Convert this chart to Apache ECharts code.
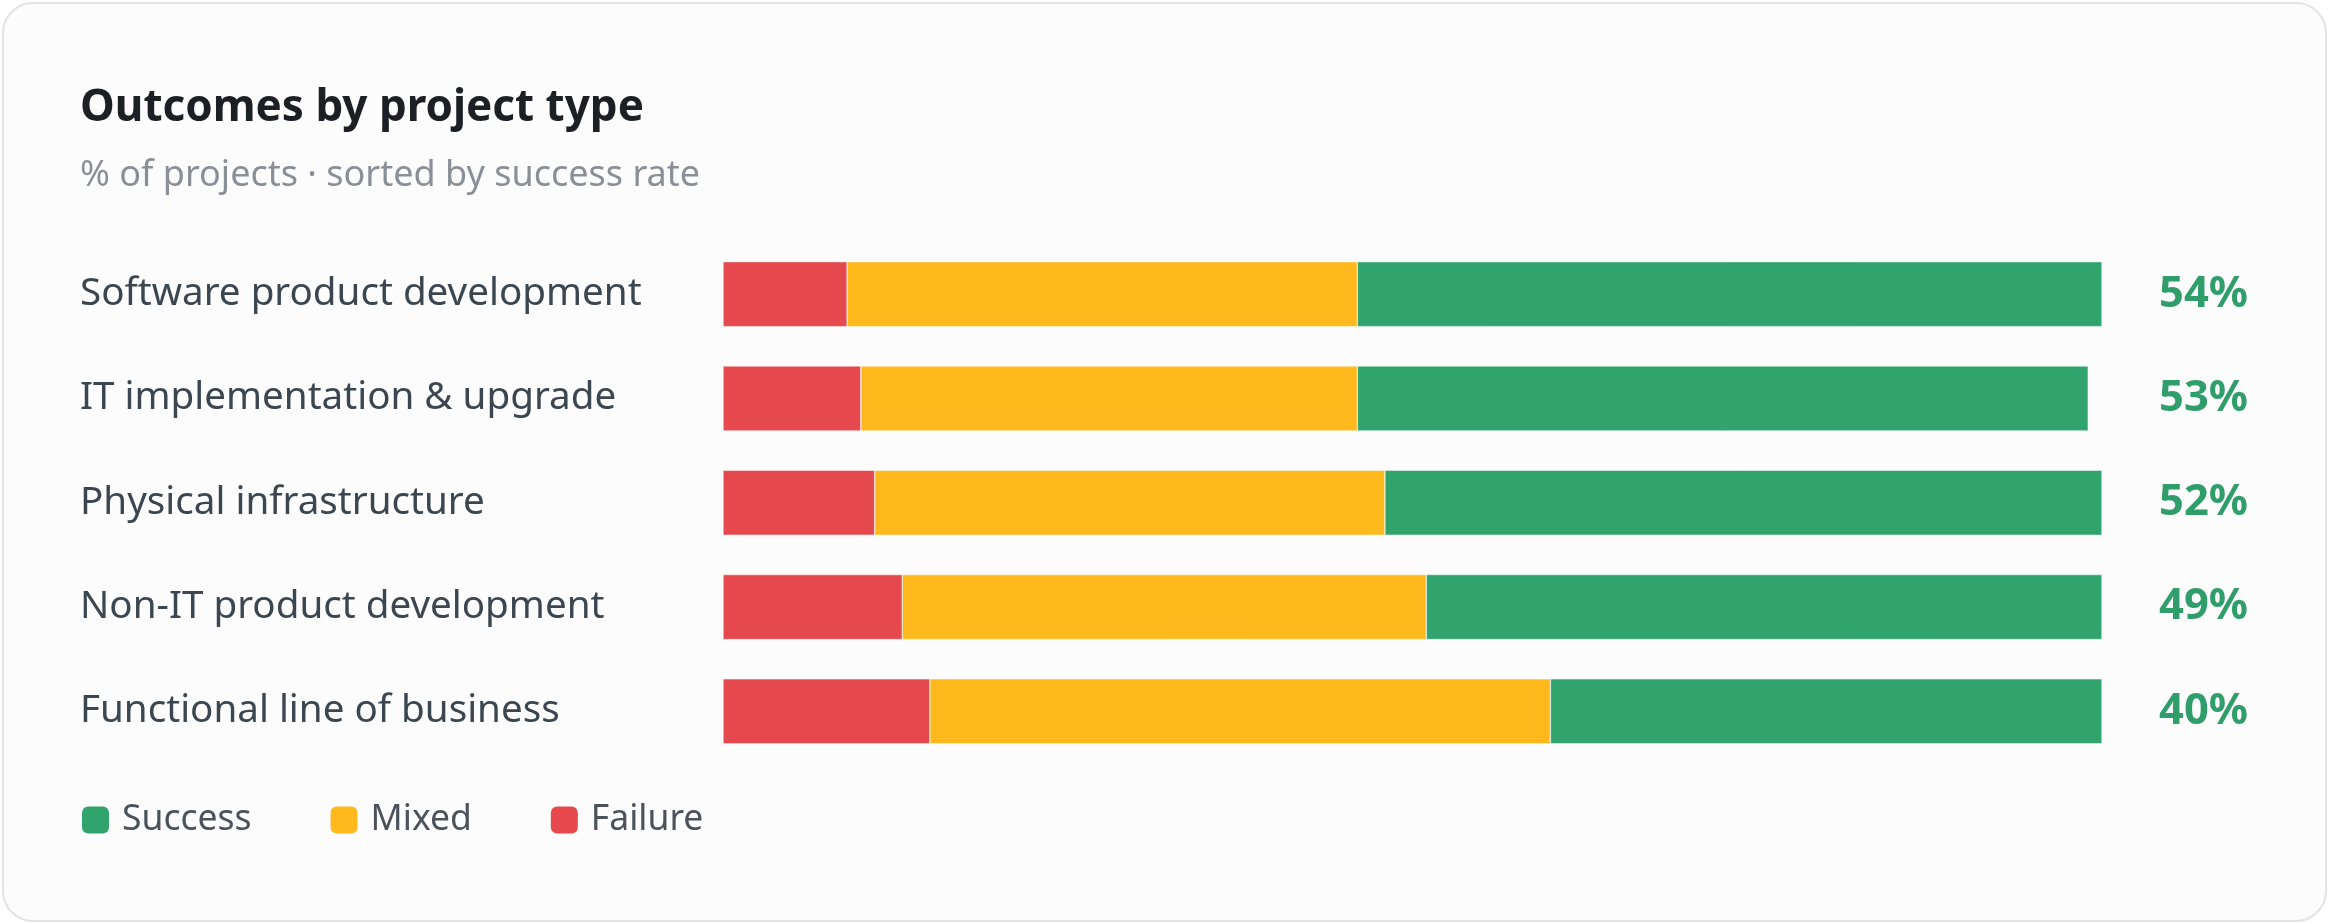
<!DOCTYPE html>
<html>
<head>
<meta charset="utf-8">
<script src="https://cdn.jsdelivr.net/npm/echarts@6/dist/echarts.min.js"></script>
<style>
  html, body { margin: 0; padding: 0; background: #ffffff; }
  #chart { width: 2329px; height: 924px; }
</style>
</head>
<body>
<div id="chart"></div>
<script>
// ---- data ----
const categories = [
  'Software product development',
  'IT implementation & upgrade',
  'Physical infrastructure',
  'Non-IT product development',
  'Functional line of business'
];
const failure = [9, 10, 11, 13, 15];
const mixed   = [37, 36, 37, 38, 45];
const success = [54, 53, 52, 49, 40];
const legendOrder = ['Success', 'Mixed', 'Failure'];

const FONT = '"Noto Sans", "Open Sans", sans-serif';
const C_SUCCESS = '#30a46c';
const C_MIXED = '#ffb91d';
const C_FAIL = '#e5484d';

const chart = echarts.init(document.getElementById('chart'));
chart.setOption({
  backgroundColor: '#ffffff',
  animation: false,
  textStyle: { fontFamily: FONT },
  graphic: [{
    type: 'rect', z: -10, silent: true,
    shape: { x: 3, y: 3, width: 2323, height: 918, r: 30 },
    style: { fill: '#fcfcfc', stroke: '#e1e3e6', lineWidth: 2 }
  }],
  title: [
    {
      text: 'Outcomes by project type',
      left: 80, top: 81, padding: 0,
      textStyle: { fontFamily: FONT, fontSize: 44, fontWeight: 'bold', color: '#1c1f24', lineHeight: 54 }
    },
    {
      text: '% of projects · sorted by success rate',
      left: 80, top: 154, padding: 0,
      textStyle: { fontFamily: FONT, fontSize: 36, fontWeight: 'normal', color: '#8a8f97', lineHeight: 44 }
    }
  ],
  legend: {
    data: legendOrder,
    left: 80, top: 800, padding: 0,
    itemWidth: 29, itemHeight: 29, itemGap: 77,
    icon: 'roundRect',
    textStyle: { fontFamily: FONT, fontSize: 35.5, color: '#4b525b', lineHeight: 40, padding: [0, 0, 0, 7] }
  },
  grid: { left: 723, right: 227, top: 242, height: 521.5, containLabel: false },
  xAxis: { type: 'value', min: 0, max: 100, show: false },
  yAxis: [
    {
      type: 'category', data: categories, inverse: true,
      axisLine: { show: false }, axisTick: { show: false }, splitLine: { show: false },
      axisLabel: { align: 'left', margin: 643, fontFamily: FONT, fontSize: 38.6, color: '#3b4650' }
    },
    {
      type: 'category', data: success.map(v => v + '%'), inverse: true, position: 'right',
      axisLine: { show: false }, axisTick: { show: false }, splitLine: { show: false },
      axisLabel: { align: 'right', margin: 146, fontFamily: FONT, fontSize: 43.5, fontWeight: 'bold', color: '#2f9e6b' }
    }
  ],
  series: [
    { name: 'Failure', type: 'bar', stack: 'total', data: failure, barWidth: 65,
      itemStyle: { color: C_FAIL, borderColor: '#fcfcfc', borderWidth: 0.5 } },
    { name: 'Mixed', type: 'bar', stack: 'total', data: mixed, barWidth: 65,
      itemStyle: { color: C_MIXED, borderColor: '#fcfcfc', borderWidth: 0.5 } },
    { name: 'Success', type: 'bar', stack: 'total', data: success, barWidth: 65,
      itemStyle: { color: C_SUCCESS, borderColor: '#fcfcfc', borderWidth: 0.5 } }
  ]
});
</script>
</body>
</html>
